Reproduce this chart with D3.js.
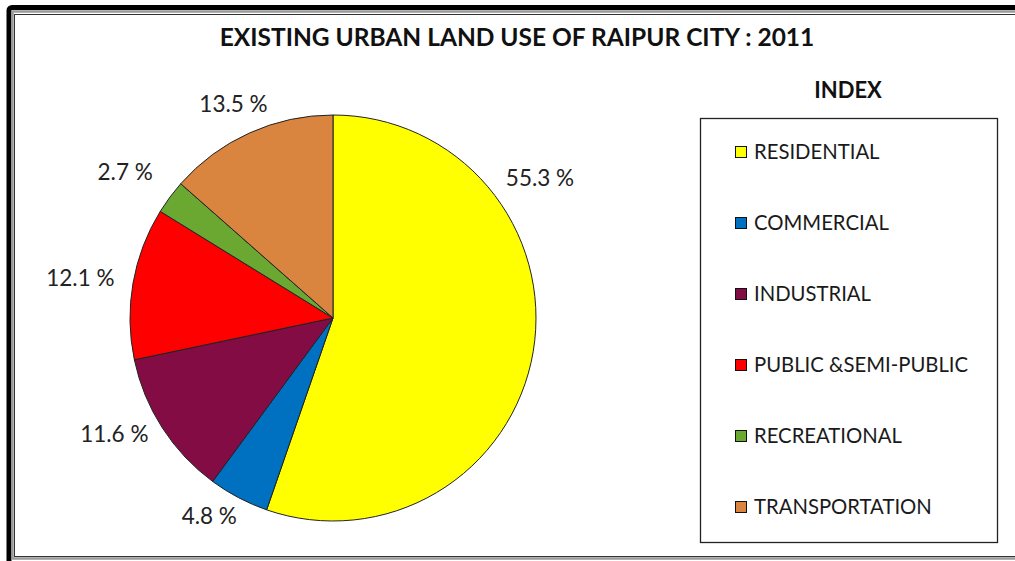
<!DOCTYPE html>
<html>
<head>
<meta charset="utf-8">
<style>
  body { margin: 0; background: #fff; }
  svg { display: block; font-family: Lato, "Open Sans", sans-serif; }
</style>
</head>
<body>
<svg id="chart" width="1015" height="561"></svg>
<script src="https://d3js.org/d3.v7.min.js"></script>
<script>

// data
var categories = ["RESIDENTIAL", "COMMERCIAL", "INDUSTRIAL", "PUBLIC &SEMI-PUBLIC", "RECREATIONAL", "TRANSPORTATION"];
var shares = [55.3, 4.8, 11.6, 12.1, 2.7, 13.5];
var colors = ["#ffff00", "#0070c0", "#840c45", "#ff0000", "#6aa832", "#d9843f"];

// where each % label sits: angle (deg, clockwise from top) and distance in radii
var labelAngle = [56, 212, 242, 279, 305, 335];
var labelDist = [1.23, 1.15, 1.22, 1.26, 1.25, 1.16];

var svg = d3.select("#chart"),
    W = +svg.attr("width"),
    H = +svg.attr("height");

svg.append("rect").attr("width", W).attr("height", H).attr("fill", "#fff");

// frame
svg.append("rect").attr("x", 9).attr("y", 7.5).attr("width", 1030).attr("height", 600)
    .attr("fill", "none").attr("stroke", "#000").attr("stroke-width", 5).attr("rx", 3);
svg.append("rect").attr("x", 12.5).attr("y", 11.5).attr("width", 1030).attr("height", 547)
    .attr("fill", "none").attr("stroke", "#9a9a9a").attr("stroke-width", 2.5);
svg.append("rect").attr("x", 14.5).attr("y", 14.5).attr("width", 1030).attr("height", 542)
    .attr("fill", "none").attr("stroke", "#333").attr("stroke-width", 1);

svg.append("text")
    .attr("x", 517).attr("y", 46)
    .attr("text-anchor", "middle")
    .attr("font-size", 24.5).attr("font-weight", "bold").attr("fill", "#111")
    .text("EXISTING URBAN LAND USE OF RAIPUR CITY : 2011");

// pie
var cx = 333, cy = 318, r = 203;
var pie = d3.pie().sort(null).value(function(d) { return d; });
var arc = d3.arc().innerRadius(0).outerRadius(r);
var arcs = pie(shares);

var g = svg.append("g").attr("transform", "translate(" + cx + "," + cy + ")");

g.selectAll("path.slice")
  .data(arcs)
  .enter().append("path")
    .attr("class", "slice")
    .attr("d", arc)
    .attr("fill", function(d, i) { return colors[i]; })
    .attr("stroke", "#222")
    .attr("stroke-width", 1)
    .attr("stroke-linejoin", "round");

g.selectAll("text.lbl")
  .data(arcs)
  .enter().append("text")
    .attr("class", "lbl")
    .attr("x", function(d, i) { return Math.sin(labelAngle[i] * Math.PI / 180) * r * labelDist[i]; })
    .attr("y", function(d, i) { return -Math.cos(labelAngle[i] * Math.PI / 180) * r * labelDist[i]; })
    .attr("dy", "0.35em")
    .attr("text-anchor", "middle")
    .attr("font-size", 22.5)
    .attr("fill", "#222")
    .text(function(d, i) { return d3.format(".1f")(shares[i]) + " %"; });

// legend
svg.append("text")
    .attr("x", 848).attr("y", 98)
    .attr("text-anchor", "middle")
    .attr("font-size", 22).attr("font-weight", "bold").attr("fill", "#111")
    .text("INDEX");

svg.append("rect")
    .attr("x", 700.5).attr("y", 118.5).attr("width", 297).attr("height", 424)
    .attr("fill", "#fff").attr("stroke", "#222").attr("stroke-width", 1.3);

var ly = d3.scalePoint().domain(categories).range([152, 507]);

var item = svg.selectAll("g.item")
  .data(categories)
  .enter().append("g")
    .attr("class", "item")
    .attr("transform", function(d) { return "translate(735," + ly(d) + ")"; });

item.append("rect")
    .attr("x", 0.5).attr("y", -5.5).attr("width", 11).attr("height", 11)
    .attr("fill", function(d, i) { return colors[i]; })
    .attr("stroke", "#111").attr("stroke-width", 1);

item.append("text")
    .attr("x", 19).attr("dy", "0.36em")
    .attr("font-size", 20.3).attr("fill", "#1a1a1a")
    .text(function(d) { return d; });

</script>
</body>
</html>
